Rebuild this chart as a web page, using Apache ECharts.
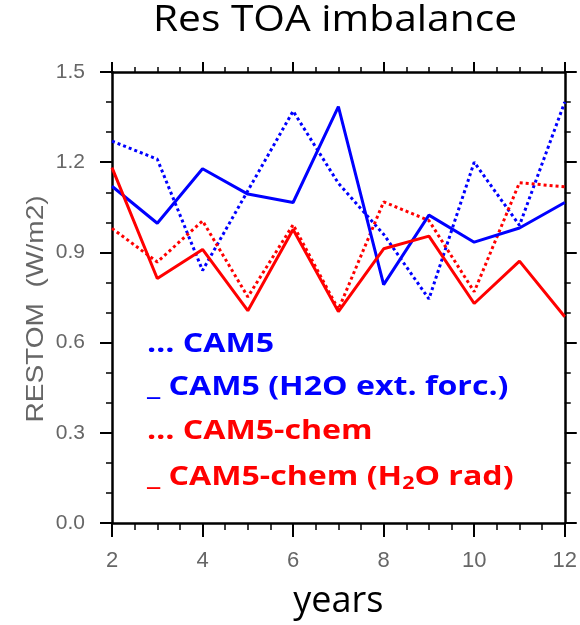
<!DOCTYPE html>
<html>
<head>
<meta charset="utf-8">
<script src="https://cdn.jsdelivr.net/npm/echarts@6/dist/echarts.min.js"></script>
<style>
  html, body { margin: 0; padding: 0; background: #fff; }
  #chart { width: 580px; height: 625px; }
</style>
</head>
<body>
<div id="chart"></div>
<script>
// Years of the run and residual top-of-atmosphere imbalance (W/m2)
const years = [2, 3, 4, 5, 6, 7, 8, 9, 10, 11, 12];
const cam5 = [1.27, 1.21, 0.84, 1.105, 1.37, 1.13, 0.96, 0.745, 1.20, 0.99, 1.40];
const cam5H2oExtForc = [1.12, 0.997, 1.178, 1.094, 1.066, 1.385, 0.793, 1.024, 0.934, 0.981, 1.066];
const cam5Chem = [0.98, 0.868, 1.005, 0.752, 0.992, 0.71, 1.068, 1.006, 0.769, 1.132, 1.118];
const cam5ChemH2oRad = [1.182, 0.813, 0.91, 0.706, 0.976, 0.703, 0.912, 0.954, 0.73, 0.871, 0.686];
const yTicks = [0.0, 0.3, 0.6, 0.9, 1.2, 1.5];

const BLUE = '#0000ff';
const RED = '#ff0000';
const GREY = '#666';
const pairs = (ys) => years.map((x, i) => [x, ys[i]]);

const chart = echarts.init(document.getElementById('chart'));

const tickStyle = (len) => ({ show: true, inside: false, length: len, lineStyle: { color: '#000', width: 2 } });
const minorStyle = (n, len) => ({ show: true, splitNumber: n, length: len, lineStyle: { color: '#000', width: 1.5 } });
const lineAxis = { show: true, onZero: false, lineStyle: { color: '#000', width: 2.5 } };
const legendFont = 'bold 27px "Open Sans"';
const LEGEND_STRETCH = 1.19;

function series(name, data, color, dashed) {
  return {
    name, type: 'line', data: pairs(data), symbol: 'none', z: dashed ? 3 : 4,
    lineStyle: { color, width: 3, type: dashed ? [3, 3] : 'solid' }
  };
}

function legendLine(text, top, color, rich) {
  return {
    type: 'text', x: 147, y: top, scaleX: LEGEND_STRETCH,
    style: Object.assign({ text, fill: color, font: legendFont }, rich ? { rich } : {})
  };
}

chart.setOption({
  animation: false,
  backgroundColor: '#fff',
  grid: { left: 112, right: 13, top: 72, bottom: 99 },
  xAxis: [
    {
      type: 'value', min: 2, max: 12, interval: 2, position: 'bottom',
      name: 'years', nameLocation: 'middle', nameGap: 61,
      nameTextStyle: { fontFamily: 'Open Sans', fontSize: 36, color: '#000' },
      axisLine: lineAxis, axisTick: tickStyle(14), minorTick: minorStyle(4, 7),
      splitLine: { show: false },
      axisLabel: { margin: 27, color: GREY, fontFamily: 'Liberation Sans', fontSize: 22 }
    },
    {
      type: 'value', min: 2, max: 12, interval: 2, position: 'top',
      axisLine: lineAxis, axisTick: tickStyle(10), minorTick: minorStyle(4, 5),
      splitLine: { show: false }, axisLabel: { show: false }
    }
  ],
  yAxis: [
    {
      type: 'value', min: 0, max: 1.5, interval: 0.3, position: 'left',
      axisLine: lineAxis, axisTick: tickStyle(12), minorTick: minorStyle(3, 6),
      splitLine: { show: false },
      axisLabel: { margin: 27, color: GREY, fontFamily: 'Liberation Sans', fontSize: 21, formatter: (v) => v.toFixed(1) }
    },
    {
      type: 'value', min: 0, max: 1.5, interval: 0.3, position: 'right',
      axisLine: lineAxis, axisTick: tickStyle(12), minorTick: minorStyle(3, 6),
      splitLine: { show: false }, axisLabel: { show: false }
    }
  ],
  series: [
    series('CAM5', cam5, BLUE, true),
    series('CAM5 (H2O ext. forc.)', cam5H2oExtForc, BLUE, false),
    series('CAM5-chem', cam5Chem, RED, true),
    series('CAM5-chem (H2O rad)', cam5ChemH2oRad, RED, false)
  ],
  graphic: [
    {
      type: 'text', x: 335, y: 20, scaleX: 1.1,
      style: { text: 'Res TOA imbalance', fill: '#000', font: '37px "Open Sans"', align: 'center', verticalAlign: 'middle' }
    },
    {
      type: 'text', x: 36, y: 309, rotation: Math.PI / 2, scaleX: 1.17,
      style: { text: 'RESTOM  (W/m2)', fill: GREY, font: '24px "Liberation Sans"', align: 'center', verticalAlign: 'middle' }
    },
    legendLine('… CAM5', 331, BLUE),
    legendLine('_ CAM5 (H2O ext. forc.)', 374, BLUE),
    legendLine('… CAM5-chem', 418, RED),
    legendLine('_ CAM5-chem (H{sub|2}O rad)', 461, RED,
      { sub: { fontSize: 18, fontWeight: 'bold', fontFamily: 'Open Sans', fill: RED, verticalAlign: 'bottom', padding: [14, 0, 0, 0] } })
  ]
});
</script>
</body>
</html>
